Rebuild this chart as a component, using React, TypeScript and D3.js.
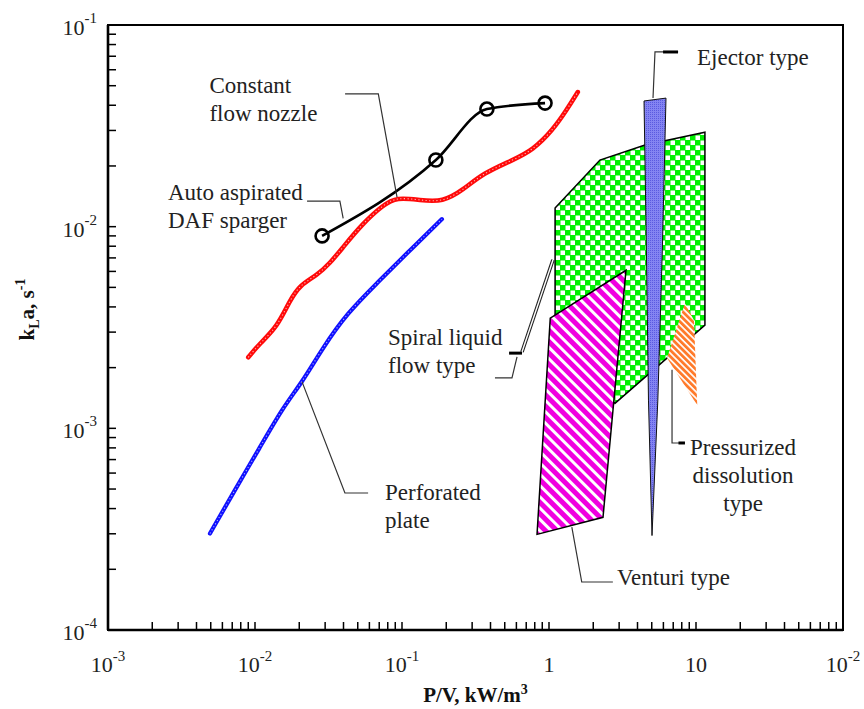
import React from "react";
import * as d3 from "d3";

const W = 864;
const H = 709;

// Constant flow nozzle (black line, open circles)
const nozzleX = [0.0286, 0.17, 0.378, 0.94];
const nozzleY = [0.009, 0.0214, 0.0383, 0.041];

// Auto aspirated DAF sparger (red)
const dafX = [0.009, 0.0108, 0.0141, 0.0173, 0.0202, 0.0264, 0.0324, 0.0397, 0.0543, 0.0743, 0.0925, 0.132, 0.19, 0.26, 0.356, 0.569, 0.778, 1.06, 1.32, 1.57];
const dafY = [0.00225, 0.00264, 0.00317, 0.00432, 0.00513, 0.00574, 0.00659, 0.00791, 0.0104, 0.0128, 0.014, 0.01355, 0.01324, 0.0152, 0.0184, 0.0214, 0.024, 0.0301, 0.0379, 0.0465];

// Perforated plate (blue)
const plateX = [0.00494, 0.00708, 0.0108, 0.0155, 0.0209, 0.029, 0.0423, 0.0676, 0.108, 0.187];
const plateY = [0.000301, 0.000476, 0.000805, 0.00127, 0.00169, 0.00252, 0.00372, 0.00525, 0.00738, 0.0109];

// regions (polygon outlines)
const spiralX = [1.1, 2.22, 4.5, 11.5, 11.5, 2.81, 1.1];
const spiralY = [0.01236, 0.0214, 0.0254, 0.0294, 0.00325, 0.00133, 0.00306];
const venturiX = [3.34, 1.02, 0.829, 2.33];
const venturiY = [0.00608, 0.00352, 0.000298, 0.000362];
const pressX = [8.41, 9.69, 10.2, 6.35];
const pressY = [0.00417, 0.00344, 0.0013, 0.00223];
const ejectorX = [4.43, 6.25, 5.9, 5.5, 5.02, 4.75, 4.6];
const ejectorY = [0.042, 0.0434, 0.00764, 0.00138, 0.000294, 0.00138, 0.00764];

// axis tick labels
const xTickValues = [1e-3, 1e-2, 1e-1, 1, 10, 100];
const xTickBases = ["10", "10", "10", "1", "10", "10"];
const xTickExps = ["-3", "-2", "-1", "", "", "-2"];
const yTickValues = [1e-4, 1e-3, 1e-2, 1e-1];
const yTickExps = ["-4", "-3", "-2", "-1"];

// annotation labels: text lines, anchor point in data units
const labelLines = [
  ["Constant", "flow nozzle"],
  ["Auto aspirated", "DAF sparger"],
  ["Spiral liquid", "flow type"],
  ["Perforated", "plate"],
  ["Ejector type"],
  ["Pressurized", "dissolution", "type"],
  ["Venturi type"],
];
const labelAt = [
  [0.0049, 0.0504],
  [0.00256, 0.01486],
  [0.0804, 0.00284],
  [0.0766, 0.000483],
  [10.16, 0.0694],
  [20.9, 0.000807],
  [2.9, 0.000183],
];

// leader lines in data units
const leaders = [
  [[0.041, 0.0455], [0.069, 0.0455], [0.0925, 0.014]],
  [[0.0226, 0.0134], [0.0378, 0.0134], [0.0398, 0.011]],
  [[0.606, 0.00226], [0.56, 0.00178], [0.429, 0.00178]],
  [[0.0209, 0.0017], [0.0409, 0.000478], [0.0588, 0.000478]],
  [[5.1, 0.0435], [5.26, 0.0735], [7.55, 0.0735]],
  [[6.87, 0.00195], [6.87, 0.000846], [8.41, 0.000846]],
  [[1.43, 0.000324], [1.67, 0.000173], [2.72, 0.000173]],
];
const spiralDouble = [[1.064, 0.00684], [0.655, 0.00239]];
const dashes = [
  [[0.535, 0.00236], [0.655, 0.00236]],
  [[5.97, 0.0735], [7.55, 0.0735]],
  [[7.6, 0.000846], [8.41, 0.000846]],
];

const serif = "'Liberation Serif', 'Times New Roman', serif";

export default function App() {
  const x = d3.scaleLog().domain([1e-3, 1e2]).range([108, 843]);
  const y = d3.scaleLog().domain([1e-4, 1e-1]).range([630, 25]);
  const [x0, x1] = x.range();
  const [y0, y1] = y.range();

  const pt = (p: number[]) => [x(p[0]), y(p[1])] as [number, number];
  const zip = (a: number[], b: number[]) => a.map((v, i) => [v, b[i]]);
  const poly = (a: number[], b: number[]) => d3.line()(zip(a, b).map(pt)) + "Z";
  const smooth = d3.line().curve(d3.curveBasis);
  const mono = d3.line().curve(d3.curveMonotoneX);
  const straight = d3.line();

  const nozzle = zip(nozzleX, nozzleY).map(pt);
  const plateD = smooth(zip(plateX, plateY).map(pt)) || "";
  const dafD = smooth(zip(dafX, dafY).map(pt)) || "";

  return (
    <svg width={W} height={H} style={{ position: "absolute", left: 0, top: 0, background: "#fff" }} fontFamily={serif}>
      <defs>
        <pattern id="checker" width={10} height={10} patternUnits="userSpaceOnUse">
          <rect width={10} height={10} fill="#00f000" />
          <rect x={0.5} y={0.5} width={4.5} height={4.5} fill="#fff" />
          <rect x={5.5} y={5.5} width={4.5} height={4.5} fill="#fff" />
        </pattern>
        <pattern id="magenta" width={8} height={8} patternUnits="userSpaceOnUse" patternTransform="rotate(-45)">
          <rect width={8} height={8} fill="#fff" />
          <rect width={5} height={8} fill="#f000e0" />
        </pattern>
        <pattern id="orange" width={4.5} height={4.5} patternUnits="userSpaceOnUse" patternTransform="rotate(-45)">
          <rect width={4.5} height={4.5} fill="#fff" />
          <rect width={2.8} height={4.5} fill="#ff7a2a" />
        </pattern>
        <pattern id="ejector" width={2} height={2} patternUnits="userSpaceOnUse">
          <rect width={2} height={2} fill="#8484f2" />
          <rect width={1} height={1} fill="#5a5ae0" />
        </pattern>
      </defs>

      {/* regions */}
      <path d={poly(spiralX, spiralY)} fill="url(#checker)" stroke="#000" strokeWidth={1.5} />
      <path d={poly(venturiX, venturiY)} fill="url(#magenta)" stroke="#000" strokeWidth={1.5} />
      <path d={poly(pressX, pressY)} fill="url(#orange)" />
      <path d={poly(ejectorX, ejectorY)} fill="url(#ejector)" stroke="#111" strokeWidth={1} />

      {/* curves */}
      <path d={plateD} fill="none" stroke="#1010ff" strokeWidth={4.2} strokeLinecap="round" />
      <path d={plateD} fill="none" stroke="#a8b0ff" strokeWidth={1.1} strokeDasharray="1.2 2.4" />
      <path d={dafD} fill="none" stroke="#ff0a0a" strokeWidth={4.6} strokeLinecap="round" />
      <path d={dafD} fill="none" stroke="#ffb4b4" strokeWidth={1.1} strokeDasharray="1.2 2.4" />
      <path d={mono(nozzle) || ""} fill="none" stroke="#000" strokeWidth={2.6} />
      {nozzle.map((p, i) => (
        <circle key={i} cx={p[0]} cy={p[1]} r={6.5} fill="none" stroke="#000" strokeWidth={2.6} />
      ))}

      {/* leaders */}
      {leaders.map((l, i) => (
        <path key={i} d={straight(l.map(pt)) || ""} fill="none" stroke="#333" strokeWidth={1.2} />
      ))}
      <path d={straight(spiralDouble.map(pt)) || ""} stroke="#222" strokeWidth={3.6} fill="none" />
      <path d={straight(spiralDouble.map(pt)) || ""} stroke="#fff" strokeWidth={1.4} fill="none" />
      {dashes.map((l, i) => (
        <path key={i} d={straight(l.map(pt)) || ""} stroke="#000" strokeWidth={3} fill="none" />
      ))}

      {/* labels */}
      {labelLines.map((lines, i) => {
        const [lx, ly] = pt(labelAt[i]);
        const centered = lines.length === 3;
        return (
          <text key={i} x={lx} y={ly + 8} fontSize={23} fill="#222" textAnchor={centered ? "middle" : "start"}>
            {lines.map((s, j) => (
              <tspan key={j} x={lx} dy={j === 0 ? 0 : 28}>{s}</tspan>
            ))}
          </text>
        );
      })}

      {/* frame */}
      <rect x={x0} y={y1} width={x1 - x0} height={y0 - y1} fill="none" stroke="#000" strokeWidth={2} />
      <line x1={x0} x2={x0} y1={y1} y2={y0} stroke="#000" strokeWidth={2.6} />
      <line x1={x0} x2={x1} y1={y0} y2={y0} stroke="#000" strokeWidth={2.6} />

      {/* ticks */}
      {x.ticks().filter((t) => t > 1e-3 && t < 100).map((t, i) => (
        <line key={i} x1={x(t)} x2={x(t)} y1={y0} y2={y0 - 8} stroke="#000" strokeWidth={1.5} />
      ))}
      {y.ticks().filter((t) => t > 1e-4 && t < 0.1).map((t, i) => (
        <line key={i} x1={x0} x2={x0 + 8} y1={y(t)} y2={y(t)} stroke="#000" strokeWidth={1.5} />
      ))}

      {xTickValues.map((v, i) => (
        <text key={i} x={x(v)} y={672} fontSize={22} textAnchor="middle" fill="#222">
          {xTickBases[i]}
          {xTickExps[i] && <tspan fontSize={15} dy={-11}>{xTickExps[i]}</tspan>}
        </text>
      ))}
      {yTickValues.map((v, i) => (
        <text key={i} x={97} y={y(v) + 10} fontSize={22} textAnchor="end" fill="#222">
          10<tspan fontSize={15} dy={-12}>{yTickExps[i]}</tspan>
        </text>
      ))}

      {/* axis titles */}
      <text x={(x0 + x1) / 2} y={702} fontSize={21} fontWeight="bold" textAnchor="middle" fill="#111">
        P/V, kW/m<tspan fontSize={14} dy={-8}>3</tspan>
      </text>
      <text transform={`translate(34,${(y0 + y1) / 2 - 18}) rotate(-90)`} fontSize={21} fontWeight="bold" textAnchor="middle" fill="#111">
        k<tspan fontSize={14} dy={5}>L</tspan>
        <tspan dy={-5}>a, s</tspan>
        <tspan fontSize={14} dy={-9}>-1</tspan>
      </text>
    </svg>
  );
}
